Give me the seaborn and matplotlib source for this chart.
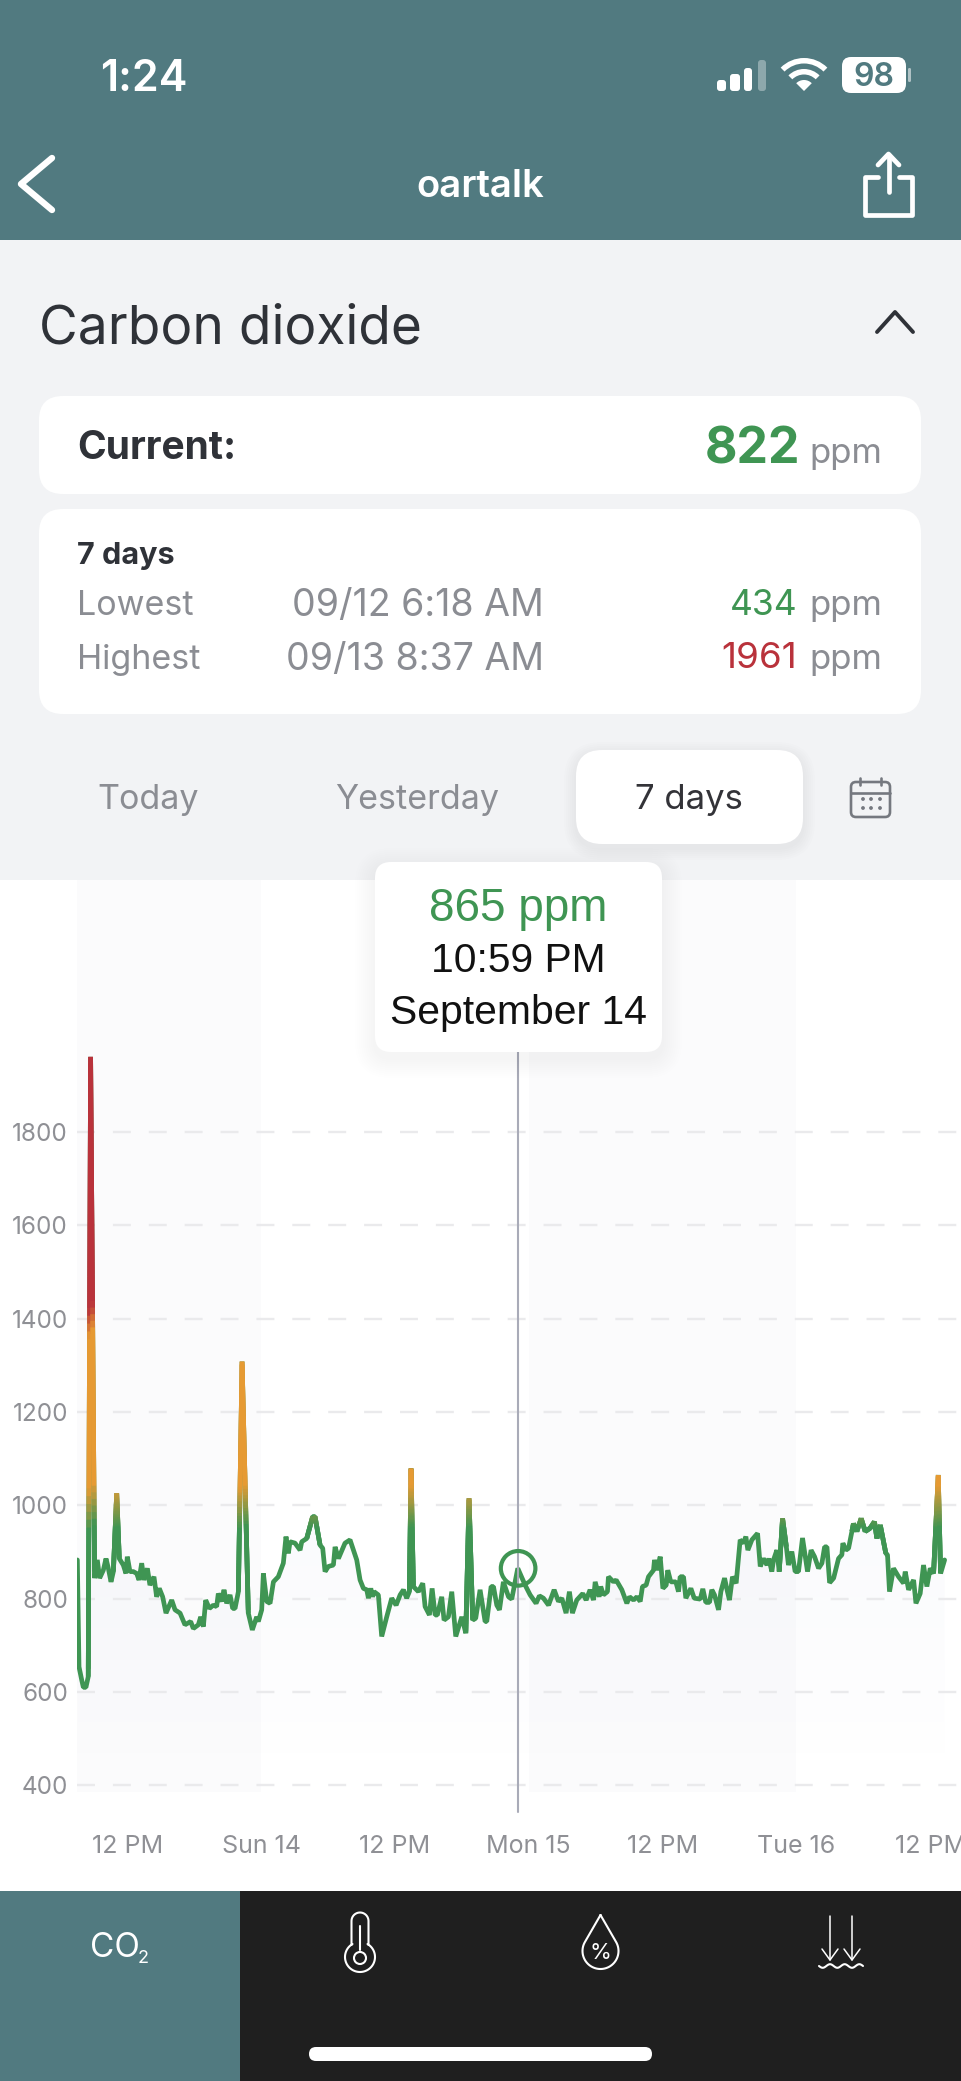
"""Recreate the oartalk CO2 screen: 7-day line chart inside the phone UI."""
import matplotlib
matplotlib.use("Agg")
import matplotlib.pyplot as plt
import numpy as np
import seaborn as sns
from matplotlib.collections import LineCollection
from matplotlib.colors import LinearSegmentedColormap, Normalize
from matplotlib.patches import Circle, FancyBboxPatch, Rectangle, Wedge

# hours relative to Sep 14 00:00
HOURS = [
    -16.47, -16.32, -16.08, -15.93, -15.70, -15.49, -15.28, -14.92, -14.68, -14.47, -14.14, -13.90,
    -13.69, -13.45, -13.24, -12.94, -12.71, -12.35, -12.11, -11.99, -11.75, -11.45, -11.15, -10.94,
    -10.70, -10.49, -10.19, -9.96, -9.60, -9.36, -9.12, -8.82, -8.52, -8.01, -7.71, -7.26,
    -6.82, -6.31, -6.07, -5.62, -5.41, -5.17, -4.96, -4.63, -4.28, -3.98, -3.83, -3.53,
    -3.32, -3.08, -2.78, -2.54, -2.33, -2.03, -1.70, -1.14, -0.78, -0.39, -0.24, 0.06,
    0.21, 0.51, 0.81, 1.11, 1.55, 2.00, 2.24, 2.45, 2.60, 3.05, 3.50, 3.65,
    4.10, 4.63, 4.84, 5.29, 5.53, 5.74, 6.04, 6.49, 6.64, 6.94, 7.53, 7.98,
    8.58, 8.88, 9.18, 9.48, 9.63, 9.84, 10.01, 10.13, 10.52, 10.82, 11.27, 11.72,
    12.11, 12.47, 12.77, 13.06, 13.30, 13.45, 13.66, 14.11, 14.50, 14.71, 15.10, 15.34,
    15.61, 15.81, 16.20, 16.41, 16.80, 17.10, 17.46, 18.00, 18.36, 18.65, 18.98, 19.25,
    19.64, 20.09, 20.24, 20.63, 20.84, 21.14, 21.38, 21.73, 22.19, 22.48, 23.02, 23.68,
    24.13, 24.66, 24.96, 25.32, 25.78, 26.28, 26.67, 26.97, 27.35, 27.65, 27.92, 28.31,
    28.85, 29.15, 29.50, 29.81, 29.96, 30.31, 30.46, 30.70, 31.06, 31.15, 31.60, 31.84,
    32.35, 32.80, 33.04, 33.40, 33.70, 34.00, 34.20, 34.53, 34.74, 35.19, 35.28, 35.49,
    35.79, 36.03, 36.33, 36.47, 36.74, 37.19, 37.43, 37.58, 37.88, 38.09, 38.54, 38.84,
    39.38, 39.61, 39.88, 40.21, 40.42, 40.66, 41.02, 41.23, 41.56, 41.82, 42.00, 42.27,
    42.60, 42.96, 43.26, 43.47, 43.65, 44.01, 44.52, 44.76, 45.05, 45.36, 45.53, 45.80,
    45.95, 46.25, 46.46, 46.76, 47.10, 47.29, 47.59, 47.89, 48.19, 48.55, 49.00, 49.32,
    49.63, 49.99, 50.29, 50.53, 50.74, 50.98, 51.34, 51.78, 52.08, 52.17, 52.44, 52.68,
    52.98, 53.12, 53.42, 53.81, 54.17, 54.61, 55.00, 55.22, 55.52, 56.02, 56.17, 56.35,
    56.71, 57.16, 57.61, 57.76, 58.06, 58.51, 58.72, 59.10, 59.40, 59.70, 60.00, 60.30,
    60.72, 60.93, 61.29,
]
PPM = [
    883, 654, 626, 610, 610, 633, 1961, 844, 883, 844, 861, 886,
    865, 836, 858, 1026, 886, 872, 854, 890, 858, 858, 854, 840,
    876, 840, 865, 829, 847, 804, 822, 804, 769, 797, 776, 769,
    744, 751, 736, 744, 761, 740, 797, 779, 786, 783, 811, 794,
    819, 790, 808, 779, 779, 815, 1308, 769, 733, 761, 751, 776,
    854, 794, 790, 836, 847, 876, 933, 897, 922, 919, 904, 922,
    929, 976, 976, 915, 908, 858, 869, 872, 911, 886, 919, 926,
    883, 840, 822, 819, 801, 822, 804, 815, 808, 719, 761, 801,
    786, 808, 819, 801, 815, 1079, 826, 815, 833, 783, 765, 822,
    765, 765, 804, 754, 761, 815, 719, 761, 726, 1015, 754, 758,
    819, 751, 751, 826, 826, 786, 776, 836, 804, 799, 865, 829,
    808, 790, 806, 801, 786, 819, 794, 801, 769, 815, 769, 797,
    811, 797, 819, 797, 836, 804, 826, 808, 815, 847, 836, 840,
    819, 790, 804, 797, 804, 794, 826, 829, 847, 861, 883, 861,
    890, 822, 829, 861, 836, 836, 815, 847, 847, 801, 822, 801,
    799, 821, 792, 792, 819, 808, 776, 815, 844, 815, 797, 847,
    833, 926, 919, 933, 904, 926, 940, 869, 886, 872, 886, 858,
    883, 904, 858, 972, 911, 872, 901, 858, 858, 930, 858, 904,
    890, 865, 876, 911, 911, 834, 844, 886, 894, 919, 904, 908,
    944, 961, 944, 972, 944, 951, 965, 929, 958, 897, 894, 815,
    865, 847, 833, 858, 819, 840, 790, 811, 872, 826, 865, 854,
    1065, 854, 883,
]
Y_TICKS = [400, 600, 800, 1000, 1200, 1400, 1600, 1800]
X_TICKS = [-12, 0, 12, 24, 36, 48, 60]
X_LABELS = ["12 PM", "Sun 14", "12 PM", "Mon 15", "12 PM", "Tue 16", "12 PM"]
NIGHT_BANDS = [(-16.5, 0), (24, 48)]
CURSOR_HOUR = 23.05
CURSOR_PPM = 865

TEAL = "#517a80"
PANEL = "#f2f3f5"
DARK = "#1f1f1f"
INK = "#2f3238"
GRAY = "#8b8d93"
GREEN = "#3f9553"
ORANGE = "#e69a33"
RED = "#b9323b"
LINE_W = 3.4

W, H = 961, 2081
sns.set_theme(style="white")
plt.rcParams["font.family"] = ["Inter", "DejaVu Sans"]
fig = plt.figure(figsize=(W / 100, H / 100), dpi=100, facecolor="white")


def ax_rect(left, top, right, bottom):
    return [left / W, 1 - bottom / H, (right - left) / W, (bottom - top) / H]


# chart
ax = fig.add_axes(ax_rect(77, 880, 961, 1822), zorder=1, facecolor="none")
for start, end in NIGHT_BANDS:
    ax.fill_between([start, end], 385, 2340, color="#fbfbfc", lw=0, zorder=0)

area = ax.fill_between(HOURS, PPM, 400, color="none", lw=0)
fade = np.zeros((128, 1, 4))
fade[..., :3] = (0.35, 0.47, 0.72)
fade[:, 0, 3] = np.linspace(0.035, 0.0, 128)
img = ax.imshow(fade, extent=(-16.5, 62, 400, 1000), origin="upper", aspect="auto", zorder=0.5)
img.set_clip_path(area.get_paths()[0], transform=ax.transData)

sns.lineplot(x=HOURS, y=PPM, ax=ax, color=GREEN, linewidth=LINE_W, estimator=None, sort=False,
             solid_joinstyle="bevel", zorder=3)

# spikes shade from green through orange to red
ramp = LinearSegmentedColormap.from_list("co2", [
    (0.0, GREEN), ((1040 - 950) / 1011, ORANGE), ((1370 - 950) / 1011, ORANGE),
    ((1425 - 950) / 1011, RED), (1.0, RED)])
norm = Normalize(950, 1961)
segs, cols = [], []
for h0, h1, p0, p1 in zip(HOURS[:-1], HOURS[1:], PPM[:-1], PPM[1:]):
    if max(p0, p1) <= 950:
        continue
    steps = np.linspace(0, 1, 80)
    xs, ys = h0 + (h1 - h0) * steps, p0 + (p1 - p0) * steps
    for i in range(len(steps) - 2):
        segs.append([(xs[i], ys[i]), (xs[i + 2], ys[i + 2])])
        cols.append(ramp(norm(ys[i + 1])))
ax.add_collection(LineCollection(segs, colors=cols, linewidths=LINE_W, capstyle="butt", zorder=4))

ax.axvline(CURSOR_HOUR, ymin=(343 - 321.4) / (2340 - 321.4), ymax=0.9, color="#a9abb8", lw=1.5, zorder=5)
sns.scatterplot(x=[CURSOR_HOUR], y=[CURSOR_PPM], ax=ax, s=620, marker="o", facecolor="none",
                edgecolor=GREEN, linewidth=3.0, zorder=6)

ax.set_xlim(-16.5, 62.76)
ax.set_ylim(321.4, 2340)
ax.set_xticks(X_TICKS, X_LABELS)
ax.set_yticks(Y_TICKS)
ax.tick_params(axis="both", length=0, labelcolor="#8f9095")
ax.tick_params(axis="y", pad=6.5, labelsize=17.5)
ax.tick_params(axis="x", pad=9.5, labelsize=18)
ax.yaxis.grid(True, color="#eaeaec", lw=1.7, linestyle=(0, (7.6, 7.6)), zorder=1)
ax.set_axisbelow(True)
ax.set_xlabel("")
ax.set_ylabel("")
sns.despine(ax=ax, left=True, bottom=True)

# phone UI on top, drawn in pixel coordinates
ui = fig.add_axes([0, 0, 1, 1], zorder=2, facecolor="none")
ui.set_xlim(0, W)
ui.set_ylim(H, 0)
ui.axis("off")


def box(x0, y0, x1, y1, r, color, **kw):
    ui.add_patch(FancyBboxPatch((x0 + r, y0 + r), x1 - x0 - 2 * r, y1 - y0 - 2 * r,
                                boxstyle=f"round,pad={r},rounding_size={r}",
                                facecolor=color, edgecolor="none", **kw))


def shadow(x0, y0, x1, y1, r, offset, spread, strength):
    for k in range(spread, 0, -2):
        box(x0 - k, y0 + offset - k, x1 + k, y1 + offset + k, r + k, "black", alpha=strength)


def stroke(xs, ys, color="white", lw=1.5, **kw):
    ui.plot(xs, ys, color=color, lw=lw, solid_capstyle="round", solid_joinstyle="round", **kw)


def label(x, y, s, size, color=INK, ha="left", weight="normal", family=None):
    ui.text(x, y, s, fontsize=size, color=color, ha=ha, va="baseline", fontweight=weight,
            family=family or ["Inter", "DejaVu Sans"])


ui.add_patch(Rectangle((0, 0), W, 240, color=TEAL, lw=0))
ui.add_patch(Rectangle((0, 240), W, 640, color=PANEL, lw=0))
ui.add_patch(Rectangle((0, 1891), 240, 190, color=TEAL, lw=0))
ui.add_patch(Rectangle((240, 1891), W - 240, 190, color=DARK, lw=0))

# status bar
label(100, 91, "1:24", 31, "white", weight="semibold")
for x0, x1, top, col, a in [(717, 726, 80, "white", 1), (730, 740, 74, "white", 1),
                            (744, 752, 68, "white", 1), (758, 766, 60, "white", 0.35)]:
    box(x0, top, x1, 91, 3, col, alpha=a)
for r, width in [(33, 5.5), (22, 5.5)]:
    ui.add_patch(Wedge((804, 91), r, 225, 315, width=width, color="white", lw=0))
ui.add_patch(Wedge((804, 91), 11, 225, 315, color="white", lw=0))
box(842, 57, 906, 93, 9, "white")
box(908, 68, 911, 82, 1.4, "white", alpha=0.55)
label(874, 86, "98", 23, TEAL, ha="center", weight="semibold")

# nav bar
stroke([52, 21, 52], [158, 184, 210], lw=4.6)
label(480, 197, "oartalk", 27.5, "white", ha="center", weight="semibold")
stroke([878, 865, 865, 912, 912, 899], [177, 177, 215, 215, 177, 177], lw=3.4)
stroke([888.5, 888.5], [155, 192], lw=3.4)
stroke([878, 888.5, 899], [165, 154, 165], lw=3.4)

# heading and stat cards
label(39, 343, "Carbon dioxide", 38.3, INK)
stroke([877, 895, 913], [332, 312, 332], color=INK, lw=2.8)
box(39, 396, 921, 494, 24, "white")
label(77, 459, "Current:", 28, INK, weight="bold")
label(800, 463, "822", 36, GREEN, ha="right", weight="bold")
label(882, 463, "ppm", 25, GRAY, ha="right")
box(39, 509, 921, 714, 24, "white")
label(77, 564, "7 days", 22, INK, weight="bold")
label(77, 615, "Lowest", 24.5, GRAY)
label(543.5, 616, "09/12 6:18 AM", 27, GRAY, ha="right")
label(797, 615, "434", 25.5, GREEN, ha="right")
label(882, 615, "ppm", 25, GRAY, ha="right")
label(77, 668.5, "Highest", 24.5, GRAY)
label(543.5, 669.5, "09/13 8:37 AM", 27, GRAY, ha="right")
label(797, 668.5, "1961", 26.5, RED, ha="right")
label(882, 668.5, "ppm", 25, GRAY, ha="right")

# range selector
shadow(576, 750, 803, 844, 26, 4, 12, 0.006)
box(576, 750, 803, 844, 26, "white")
label(148, 809, "Today", 24.5, GRAY, ha="center")
label(417, 809, "Yesterday", 24.5, GRAY, ha="center")
label(689, 809, "7 days", 25, "#333338", ha="center")
CAL = "#75787f"
ui.add_patch(FancyBboxPatch((855, 786), 31, 27, boxstyle="round,pad=4,rounding_size=5",
                            facecolor="none", edgecolor=CAL, lw=1.9))
stroke([851, 890], [793, 793], color=CAL, lw=1.9)
for x in (860, 881):
    stroke([x, x], [778, 785], color=CAL, lw=1.9)
for y in (799, 808):
    for x in (863, 871, 880):
        ui.add_patch(Circle((x, y), 1.9, color=CAL, lw=0))

# tooltip
shadow(375, 862, 662, 1052, 16, 6, 20, 0.005)
box(375, 862, 662, 1052, 16, "white")
SANS = ["Liberation Sans", "DejaVu Sans"]
label(518, 921, "865 ppm", 33, GREEN, ha="center", family=SANS)
label(518, 972, "10:59 PM", 29.3, "#111111", ha="center", family=SANS)
label(518, 1024, "September 14", 29.4, "#111111", ha="center", family=SANS)

# bottom tabs
label(90, 1957, "CO", 24, "white")
label(138, 1963, "2", 13, "white")
bulb_t = np.linspace(np.radians(-60), np.radians(240), 60)
tube_x = [351.5, 351.5] + list(360 + 8.5 * np.cos(np.linspace(np.pi, 2 * np.pi, 20))) + [368.5, 368.5]
tube_y = [1945, 1921] + list(1921 + 8.5 * np.sin(np.linspace(np.pi, 2 * np.pi, 20))) + [1921, 1945]
stroke(tube_x, tube_y, lw=1.5)
stroke(360 + 15 * np.cos(bulb_t), 1957 + 15 * np.sin(bulb_t), lw=1.5)
stroke([360, 360], [1926, 1950], lw=1.5)
ui.add_patch(Circle((360, 1958), 6, facecolor="none", edgecolor="white", lw=1.5))
drop_t = np.linspace(np.radians(-30), np.radians(210), 60)
drop_x = np.r_[600.5, 600.5 + 18 * np.cos(drop_t), 600.5]
drop_y = np.r_[1915, 1951 + 18 * np.sin(drop_t), 1915]
stroke(drop_x, drop_y, lw=1.5)
label(600.5, 1959, "%", 16, "white", ha="center")
for x in (830, 852):
    stroke([x, x], [1916, 1960], lw=1.1)
    stroke([x - 8, x, x + 8], [1949, 1960, 1949], lw=1.1)
wave_x = np.linspace(819, 863, 60)
stroke(wave_x, 1966 + 1.8 * np.sin((wave_x - 819) / 44 * 6 * np.pi), lw=1.5)
box(309, 2047, 652, 2061, 7, "white")

fig.savefig("out.png", dpi=100)
